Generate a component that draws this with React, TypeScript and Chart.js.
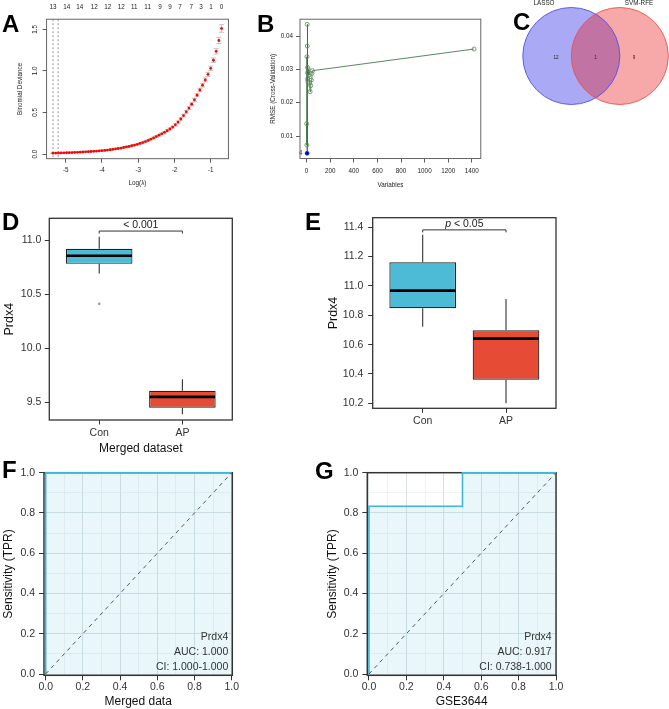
import React, { useEffect, useRef } from 'react';
import { Chart, registerables } from 'chart.js';

Chart.register(...registerables);

const FONT = '"Liberation Sans", Arial, Helvetica, sans-serif';

// ---------- Panel A: LASSO cross-validation ----------
const logLambda = [
  -5.35, -5.275, -5.2, -5.125, -5.05, -4.975, -4.9, -4.825, -4.75, -4.675,
  -4.6, -4.525, -4.45, -4.375, -4.3, -4.225, -4.15, -4.075, -4.0, -3.925,
  -3.85, -3.775, -3.7, -3.625, -3.55, -3.475, -3.4, -3.325, -3.25, -3.175,
  -3.1, -3.025, -2.95, -2.875, -2.8, -2.725, -2.65, -2.575, -2.5, -2.425,
  -2.35, -2.275, -2.2, -2.125, -2.05, -1.975, -1.9, -1.825, -1.75, -1.675,
  -1.6, -1.525, -1.45, -1.375, -1.3, -1.225, -1.15, -1.075, -1.0, -0.925,
  -0.85, -0.775, -0.7,
];
const binomialDeviance = [
  0.0100, 0.0108, 0.0118, 0.0127, 0.0138, 0.0150, 0.0162, 0.0176, 0.0191, 0.0207,
  0.0224, 0.0243, 0.0262, 0.0281, 0.0302, 0.0324, 0.0347, 0.0373, 0.0400, 0.0435,
  0.0473, 0.0514, 0.0560, 0.0609, 0.0662, 0.0719, 0.0780, 0.0846, 0.0916, 0.0994,
  0.1077, 0.1168, 0.127, 0.138, 0.150, 0.163, 0.178, 0.193, 0.210, 0.226,
  0.243, 0.261, 0.280, 0.301, 0.324, 0.351, 0.384, 0.421, 0.462, 0.507,
  0.552, 0.599, 0.652, 0.708, 0.770, 0.828, 0.891, 0.958, 1.030, 1.128,
  1.235, 1.365, 1.510,
];
const devianceSE = [
  0.004, 0.004, 0.004, 0.004, 0.004, 0.004, 0.004, 0.004, 0.004, 0.004,
  0.004, 0.005, 0.005, 0.005, 0.005, 0.005, 0.005, 0.005, 0.005, 0.005,
  0.005, 0.006, 0.006, 0.006, 0.006, 0.006, 0.006, 0.007, 0.007, 0.007,
  0.007, 0.007, 0.008, 0.008, 0.008, 0.008, 0.008, 0.010, 0.010, 0.010,
  0.010, 0.012, 0.012, 0.012, 0.012, 0.014, 0.014, 0.014, 0.016, 0.016,
  0.016, 0.018, 0.018, 0.018, 0.021, 0.021, 0.024, 0.024, 0.027, 0.027,
  0.032, 0.038, 0.046,
];
const lambdaMin = -5.35;
const lambda1se = -5.21;
const topAxisLambda = [-5.35, -4.97, -4.61, -4.21, -3.84, -3.47, -3.11, -2.74, -2.4, -2.12, -1.85, -1.54, -1.27, -0.99, -0.7];
const topAxisNonzero = ['13', '14', '14', '12', '12', '12', '11', '11', '9', '9', '7', '7', '3', '1', '0'];

// ---------- Panel B: SVM-RFE ----------
const rfeVariables = [1, 2, 3, 4, 5, 6, 7, 8, 9, 10, 15, 20, 25, 30, 35, 40, 45, 50, 1419];
const rfeRMSE = [0.0137, 0.0073, 0.0338, 0.0048, 0.0435, 0.037, 0.0306, 0.029, 0.0272, 0.0265, 0.03, 0.0283, 0.026, 0.0233, 0.0251, 0.0268, 0.0288, 0.0296, 0.0361];
const rfeBestLabel = '4';

// ---------- Panel C: Venn ----------
const vennSets = ['LASSO', 'SVM-RFE'];
const vennCounts = [12, 1, 9];

// ---------- Panels D / E: boxplots ----------
const groups = ['Con', 'AP'];
const mergedLow = [10.69, 9.39];
const mergedQ1 = [10.78, 9.45];
const mergedMedian = [10.855, 9.55];
const mergedQ3 = [10.92, 9.606];
const mergedHigh = [11.03, 9.713];
const mergedOutliers = [[10.41], []];
const mergedP = '< 0.001';

const gseLow = [10.722, 10.2];
const gseQ1 = [10.848, 10.361];
const gseMedian = [10.968, 10.641];
const gseQ3 = [11.161, 10.698];
const gseHigh = [11.348, 10.911];
const gseOutliers = [[], []];
const gseP = '< 0.05';

// ---------- Panels F / G: ROC ----------
const rocGene = 'Prdx4';
const rocMergedFPR = [0, 0, 1];
const rocMergedTPR = [0, 1, 1];
const rocMergedAUC = '1.000';
const rocMergedCI = '1.000-1.000';
const rocGseFPR = [0, 0, 0.5, 0.5, 1];
const rocGseTPR = [0, 0.833, 0.833, 1, 1];
const rocGseAUC = '0.917';
const rocGseCI = '0.738-1.000';
const rocGridTicks = [0, 0.1, 0.2, 0.3, 0.4, 0.5, 0.6, 0.7, 0.8, 0.9, 1.0];
const diagonal = [0, 1];

const font = (size: number, extra: any = {}) => ({ family: FONT, size, ...extra });

const baseOptions = () => ({
  animation: false,
  responsive: false,
  maintainAspectRatio: false,
  devicePixelRatio: 1,
  events: [],
  plugins: { legend: { display: false }, tooltip: { enabled: false } },
});

function framePlugin(color: string, width: number) {
  return {
    id: 'frame',
    beforeDatasetsDraw(chart: any) {
      const { ctx, chartArea: a } = chart;
      ctx.save();
      ctx.strokeStyle = color;
      ctx.lineWidth = width;
      ctx.strokeRect(a.left, a.top, a.right - a.left, a.bottom - a.top);
      ctx.restore();
    },
  };
}

function letterPlugin(text: string, x: number, y: number) {
  return {
    id: 'panelLetter',
    afterDraw(chart: any) {
      const ctx = chart.ctx;
      ctx.save();
      ctx.font = `bold 24px ${FONT}`;
      ctx.fillStyle = '#000';
      ctx.textAlign = 'left';
      ctx.textBaseline = 'alphabetic';
      ctx.fillText(text, x, y);
      ctx.restore();
    },
  };
}

// ---------- A ----------
function configA() {
  const small = font(6.3);
  const points = logLambda.map((x, i) => ({ x, y: binomialDeviance[i] }));
  const xMin = -5.527;
  const xMax = -0.512;
  const errorBars = {
    id: 'errorBars',
    beforeDatasetsDraw(chart: any) {
      const { ctx, scales } = chart;
      const x = scales.x;
      const y = scales.y;
      ctx.save();
      ctx.strokeStyle = '#666';
      ctx.lineWidth = 0.7;
      ctx.setLineDash([2, 2]);
      [lambdaMin, lambda1se].forEach((l) => {
        const px = x.getPixelForValue(l);
        ctx.beginPath();
        ctx.moveTo(px, chart.chartArea.top);
        ctx.lineTo(px, chart.chartArea.bottom);
        ctx.stroke();
      });
      ctx.setLineDash([]);
      ctx.strokeStyle = '#aaaaaa';
      ctx.lineWidth = 0.7;
      logLambda.forEach((l, i) => {
        const px = x.getPixelForValue(l);
        const lo = y.getPixelForValue(binomialDeviance[i] - devianceSE[i]);
        const hi = y.getPixelForValue(binomialDeviance[i] + devianceSE[i]);
        ctx.beginPath();
        ctx.moveTo(px, lo);
        ctx.lineTo(px, hi);
        ctx.moveTo(px - 2.5, lo);
        ctx.lineTo(px + 2.5, lo);
        ctx.moveTo(px - 2.5, hi);
        ctx.lineTo(px + 2.5, hi);
        ctx.stroke();
      });
      ctx.restore();
    },
  };
  // number of non-zero coefficients along the top edge (R axis side 3, no tick marks)
  const topCounts = {
    id: 'topCounts',
    afterDraw(chart: any) {
      const { ctx, scales, chartArea } = chart;
      ctx.save();
      ctx.font = `6.3px ${FONT}`;
      ctx.fillStyle = '#222';
      ctx.textAlign = 'center';
      ctx.textBaseline = 'middle';
      topAxisLambda.forEach((l, i) => {
        ctx.fillText(topAxisNonzero[i], scales.x.getPixelForValue(l), chartArea.top - 12);
      });
      ctx.restore();
    },
  };
  return {
    type: 'scatter',
    data: {
      datasets: [
        { data: points, pointRadius: 1.4, pointBackgroundColor: '#ff0000', pointBorderColor: '#ff0000', pointBorderWidth: 0, clip: false },
      ],
    },
    options: {
      ...baseOptions(),
      layout: { autoPadding: false, padding: { left: 0, right: 11.6, top: 19.2, bottom: 0 } },
      scales: {
        x: {
          type: 'linear', position: 'bottom', min: xMin, max: xMax,
          ticks: { stepSize: 1, includeBounds: false, minRotation: 0, maxRotation: 0, font: small, color: '#222', padding: 4.2, callback: (v: any) => String(v) },
          grid: { drawOnChartArea: false, tickLength: 4, color: '#333', lineWidth: 0.8 },
          border: { display: false },
          title: { display: true, text: 'Log(λ)', font: small, color: '#222', padding: { top: 0, bottom: 7.9 } },
          afterFit: (s: any) => { s.height = 36.3; },
        },
        y: {
          type: 'linear', min: -0.0565, max: 1.6215,
          ticks: { stepSize: 0.5, includeBounds: false, minRotation: 90, maxRotation: 90, crossAlign: 'center', font: small, color: '#222', padding: 2.7, callback: (v: any) => Number(v).toFixed(1) },
          grid: { drawOnChartArea: false, tickLength: 4, color: '#333', lineWidth: 0.8 },
          border: { display: false },
          title: { display: true, text: 'Binomial Deviance', font: small, color: '#222', padding: { top: 16.7, bottom: 0 } },
          afterFit: (s: any) => { s.width = 46.6; },
        },
      },
    },
    plugins: [framePlugin('#555', 0.9), errorBars, topCounts, letterPlugin('A', 2, 32)],
  };
}

// ---------- B ----------
function configB() {
  const small = font(6.3);
  const pts = rfeVariables.map((v, i) => ({ x: v, y: rfeRMSE[i] }));
  const best = rfeRMSE.indexOf(Math.min(...rfeRMSE));
  const bestLabel = {
    id: 'bestLabel',
    afterDatasetsDraw(chart: any) {
      const { ctx, scales } = chart;
      const px = scales.x.getPixelForValue(rfeVariables[best]);
      const py = scales.y.getPixelForValue(rfeRMSE[best]);
      ctx.save();
      ctx.font = `6.3px ${FONT}`;
      ctx.fillStyle = '#ff0000';
      ctx.textAlign = 'right';
      ctx.textBaseline = 'middle';
      ctx.fillText(rfeBestLabel, px - 4.5, py);
      ctx.restore();
    },
  };
  return {
    type: 'line',
    data: {
      datasets: [
        { data: [pts[best]], showLine: false, pointRadius: 2, pointBackgroundColor: '#0000ff', pointBorderColor: '#0000ff', pointBorderWidth: 0, clip: false },
        { data: pts, borderColor: '#2e6b2e', borderWidth: 0.8, pointRadius: 2, pointBackgroundColor: 'rgba(0,0,0,0)', pointBorderColor: '#5b875b', pointBorderWidth: 0.8, tension: 0, fill: false, clip: false },
      ],
    },
    options: {
      ...baseOptions(),
      layout: { autoPadding: false, padding: { left: 0, right: 9.2, top: 19.2, bottom: 0 } },
      scales: {
        x: {
          type: 'linear', min: -56, max: 1476,
          ticks: { stepSize: 200, includeBounds: false, minRotation: 0, maxRotation: 0, font: small, color: '#222', padding: 4.7, autoSkip: false, callback: (v: any) => String(v) },
          grid: { drawOnChartArea: false, tickLength: 4, color: '#333', lineWidth: 0.8 },
          border: { display: false },
          title: { display: true, text: 'Variables', font: small, color: '#222', padding: { top: 0, bottom: 6.2 } },
          afterFit: (s: any) => { s.height = 36.5; },
        },
        y: {
          type: 'linear', min: 0.00325, max: 0.04505,
          ticks: { stepSize: 0.01, includeBounds: false, font: small, color: '#222', padding: 3, callback: (v: any) => Number(v).toFixed(2) },
          grid: { drawOnChartArea: false, tickLength: 4, color: '#333', lineWidth: 0.8 },
          border: { display: false },
          title: { display: true, text: 'RMSE (Cross-Validation)', font: small, color: '#222', padding: { top: 29.5, bottom: 0 } },
          afterFit: (s: any) => { s.width = 60; },
        },
      },
    },
    plugins: [framePlugin('#555', 0.9), bestLabel, letterPlugin('B', 17, 32)],
  };
}

// ---------- C ----------
function configC() {
  const vennRadius = 1.0;
  const vennCenters = [-0.5, 0.5];
  const fills = ['rgba(30,30,230,0.38)', 'rgba(235,30,30,0.38)'];
  const strokes = ['#5252e8', '#e85252'];
  const venn = {
    id: 'venn',
    beforeDatasetsDraw(chart: any) {
      const { ctx, scales } = chart;
      const x = scales.x;
      const y = scales.y;
      const r = Math.abs(x.getPixelForValue(vennRadius) - x.getPixelForValue(0));
      ctx.save();
      vennCenters.forEach((c, i) => {
        ctx.beginPath();
        ctx.arc(x.getPixelForValue(c), y.getPixelForValue(0), r, 0, Math.PI * 2);
        ctx.fillStyle = fills[i];
        ctx.fill();
      });
      vennCenters.forEach((c, i) => {
        ctx.beginPath();
        ctx.arc(x.getPixelForValue(c), y.getPixelForValue(0), r, 0, Math.PI * 2);
        ctx.strokeStyle = strokes[i];
        ctx.lineWidth = 0.9;
        ctx.stroke();
      });
      ctx.fillStyle = '#222';
      ctx.textAlign = 'center';
      ctx.textBaseline = 'middle';
      ctx.font = `6.3px ${FONT}`;
      ctx.fillText(vennSets[0], x.getPixelForValue(-1.063), y.getPixelForValue(1.093));
      ctx.fillText(vennSets[1], x.getPixelForValue(0.896), y.getPixelForValue(1.093));
      ctx.font = `4.6px ${FONT}`;
      const cx = [-0.815, 0, 0.793];
      vennCounts.forEach((cnt, i) => ctx.fillText(String(cnt), x.getPixelForValue(cx[i]), y.getPixelForValue(-0.03)));
      ctx.restore();
    },
  };
  return {
    type: 'scatter',
    data: {
      datasets: vennSets.map((s, i) => ({ label: s, data: [{ x: vennCenters[i], y: 0 }], pointRadius: 0 })),
    },
    options: {
      ...baseOptions(),
      layout: { autoPadding: false, padding: 0 },
      scales: {
        x: { type: 'linear', display: false, min: -2.176, max: 1.514 },
        y: { type: 'linear', display: false, min: -1.216, max: 1.154 },
      },
    },
    plugins: [venn, letterPlugin('C', 23, 30)],
  };
}

// ---------- D / E ----------
function configBox(p: any) {
  const colors = ['#4DBBD5', '#E64B35'];
  const extras = {
    id: 'boxExtras',
    afterDatasetsDraw(chart: any) {
      const { ctx, scales } = chart;
      const x = scales.x;
      const y = scales.y;
      ctx.save();
      p.low.forEach((_: any, i: number) => {
        const xc = x.getPixelForValue(i + 1);
        const hw = x.getPixelForValue(i + 1.4) - xc;
        ctx.strokeStyle = '#333';
        ctx.lineWidth = 1.1;
        ctx.beginPath();
        ctx.moveTo(xc, y.getPixelForValue(p.q3[i]));
        ctx.lineTo(xc, y.getPixelForValue(p.high[i]));
        ctx.moveTo(xc, y.getPixelForValue(p.q1[i]));
        ctx.lineTo(xc, y.getPixelForValue(p.low[i]));
        ctx.stroke();
        const ym = y.getPixelForValue(p.median[i]);
        ctx.strokeStyle = '#000';
        ctx.lineWidth = 2.6;
        ctx.beginPath();
        ctx.moveTo(xc - hw + 0.6, ym);
        ctx.lineTo(xc + hw - 0.6, ym);
        ctx.stroke();
      });
      const by = y.getPixelForValue(p.bracketY);
      const x1 = x.getPixelForValue(1);
      const x2 = x.getPixelForValue(2);
      ctx.strokeStyle = '#333';
      ctx.lineWidth = 1;
      ctx.beginPath();
      ctx.moveTo(x1, by + 2.5);
      ctx.lineTo(x1, by);
      ctx.lineTo(x2, by);
      ctx.lineTo(x2, by + 2.5);
      ctx.stroke();
      ctx.fillStyle = '#222';
      ctx.textBaseline = 'alphabetic';
      const mid = (x1 + x2) / 2;
      const normal = `10.5px ${FONT}`;
      const italic = `italic 10.5px ${FONT}`;
      if (p.italicP) {
        ctx.font = italic;
        const w1 = ctx.measureText('p ').width;
        ctx.font = normal;
        const w2 = ctx.measureText(p.pText).width;
        const start = mid - (w1 + w2) / 2;
        ctx.textAlign = 'left';
        ctx.font = italic;
        ctx.fillText('p ', start, by - 3);
        ctx.font = normal;
        ctx.fillText(p.pText, start + w1, by - 3);
      } else {
        ctx.font = normal;
        ctx.textAlign = 'center';
        ctx.fillText(p.pText, mid, by - 3);
      }
      ctx.restore();
    },
  };
  const outlierPts: any[] = [];
  p.outliers.forEach((arr: number[], i: number) => arr.forEach((v) => outlierPts.push({ x: i + 1, y: v })));
  return {
    type: 'bar',
    data: {
      datasets: [
        { type: 'scatter', data: outlierPts, pointRadius: 1.3, pointBackgroundColor: '#999', pointBorderColor: '#999', pointBorderWidth: 0 },
        {
          type: 'bar',
          data: groups.map((_g, i) => ({ x: i + 1, y: [p.q1[i], p.q3[i]] })),
          backgroundColor: colors,
          borderColor: '#222',
          borderWidth: 1.2,
          borderSkipped: false,
          categoryPercentage: 0.8,
          barPercentage: 1,
          clip: false,
        },
      ],
    },
    options: {
      ...baseOptions(),
      layout: { autoPadding: false, padding: { left: 0, right: p.padRight, top: p.padTop, bottom: 0 } },
      scales: {
        x: {
          type: 'linear', min: 0.4, max: 2.6, offset: false,
          afterBuildTicks: (s: any) => { s.ticks = groups.map((_g, i) => ({ value: i + 1 })); },
          ticks: { autoSkip: false, minRotation: 0, maxRotation: 0, font: font(10.5), color: '#333', padding: p.xTickPad, callback: (_v: any, i: number) => groups[i] },
          grid: { drawOnChartArea: false, offset: false, tickLength: 4.5, color: '#333', lineWidth: 1 },
          border: { display: false },
          title: p.xTitle
            ? { display: true, text: p.xTitle, font: font(12), color: '#111', padding: { top: 0, bottom: p.xTitlePad } }
            : { display: false },
          afterFit: (s: any) => { s.height = p.xHeight; },
        },
        y: {
          type: 'linear', min: p.yMin, max: p.yMax,
          ticks: { stepSize: p.step, includeBounds: false, font: font(10.5), color: '#333', padding: p.yTickPad, callback: (v: any) => Number(v).toFixed(1) },
          grid: { drawOnChartArea: false, tickLength: 4.5, color: '#333', lineWidth: 1 },
          border: { display: false },
          title: { display: true, text: 'Prdx4', font: font(12.5), color: '#111', padding: { top: p.yTitlePad, bottom: 0 } },
          afterFit: (s: any) => { s.width = p.yWidth; },
        },
      },
    },
    plugins: [framePlugin('#333', 1.3), extras, letterPlugin(p.letter, p.letterX, p.letterY)],
  };
}

// ---------- F / G ----------
function configRoc(p: any) {
  const roc = p.fpr.map((f: number, i: number) => ({ x: f, y: p.tpr[i] }));
  const isMajor = (v: number) => Math.round(v * 10) % 2 === 0;
  const label = (v: any) => (isMajor(Number(v)) ? Number(v).toFixed(1) : '');
  const axis = (extra: any) => ({
    type: 'linear',
    afterBuildTicks: (s: any) => { s.ticks = rocGridTicks.map((v) => ({ value: v })); },
    grid: {
      color: (c: any) => (c.tick && isMajor(c.tick.value) ? '#d6dde0' : '#e6eaec'),
      lineWidth: (c: any) => (c.tick && isMajor(c.tick.value) ? 0.9 : 0.6),
      tickColor: (c: any) => (c.tick && isMajor(c.tick.value) ? '#333' : 'rgba(0,0,0,0)'),
      tickWidth: 1,
      tickLength: 5,
    },
    border: { display: false },
    ...extra,
  });
  const rocText = {
    id: 'rocText',
    afterDatasetsDraw(chart: any) {
      const { ctx, chartArea: a } = chart;
      ctx.save();
      ctx.font = `10.5px ${FONT}`;
      ctx.fillStyle = '#333';
      ctx.textAlign = 'right';
      ctx.textBaseline = 'middle';
      const lines = [rocGene, `AUC: ${p.auc}`, `CI: ${p.ci}`];
      const offs = [38.6, 23.6, 8.6];
      lines.forEach((t, i) => ctx.fillText(t, a.right - p.textInset, a.bottom - offs[i]));
      ctx.restore();
    },
  };
  return {
    type: 'line',
    data: {
      datasets: [
        { data: diagonal.map((d) => ({ x: d, y: d })), borderColor: '#555', borderWidth: 1, borderDash: [4, 4], pointRadius: 0, fill: false, clip: false },
        { data: roc, borderColor: '#41b5da', borderWidth: 1.6, pointRadius: 0, tension: 0, fill: 'origin', backgroundColor: 'rgba(77,187,213,0.12)', clip: false },
      ],
    },
    options: {
      ...baseOptions(),
      layout: { autoPadding: false, padding: { left: 0, right: p.padRight, top: 17.7, bottom: 0 } },
      scales: {
        x: axis({
          min: -0.009, max: p.xMax,
          title: { display: true, text: p.xTitle, font: font(12), color: '#111', padding: { top: 0, bottom: 0.1 } },
          afterFit: (s: any) => { s.height = 33.7; },
          ticks: { autoSkip: false, minRotation: 0, maxRotation: 0, font: font(10.5), color: '#333', padding: 0.7, callback: label },
        }),
        y: axis({
          min: -0.0064, max: 1.0,
          title: { display: true, text: 'Sensitivity (TPR)', font: font(12), color: '#111', padding: { top: p.yTitlePad, bottom: 0 } },
          afterFit: (s: any) => { s.width = p.yWidth; },
          ticks: { autoSkip: false, font: font(10.5), color: '#333', padding: 4, callback: label },
        }),
      },
    },
    plugins: [framePlugin('#333', 1.5), rocText, letterPlugin(p.letter, p.letterX, p.letterY)],
  };
}

function ChartCanvas({ left, top, width, height, config }: any) {
  const ref = useRef<HTMLCanvasElement | null>(null);
  useEffect(() => {
    if (!ref.current) return;
    const chart = new Chart(ref.current, config() as any);
    return () => chart.destroy();
  }, []);
  return (
    <div style={{ position: 'absolute', left, top, width, height }}>
      <canvas ref={ref} width={width} height={height} style={{ display: 'block', width, height }} />
    </div>
  );
}

export default function App() {
  return (
    <div style={{ position: 'absolute', left: 0, top: 0, width: 669, height: 709, background: '#fff', overflow: 'hidden' }}>
      <ChartCanvas left={0} top={0} width={240} height={195} config={configA} />
      <ChartCanvas left={240} top={0} width={250} height={195} config={configB} />
      <ChartCanvas left={490} top={0} width={179} height={115} config={configC} />
      <ChartCanvas
        left={0} top={195} width={300} height={265}
        config={() => configBox({
          low: mergedLow, q1: mergedQ1, median: mergedMedian, q3: mergedQ3, high: mergedHigh, outliers: mergedOutliers,
          pText: mergedP, italicP: false, bracketY: 11.083,
          yMin: 9.336, yMax: 11.201, step: 0.5,
          padRight: 67.7, padTop: 23.3, yWidth: 49.3, xHeight: 40,
          xTitle: 'Merged dataset', xTitlePad: 4.5, xTickPad: 2.5, yTickPad: 3.5, yTitlePad: 2,
          letter: 'D', letterX: 2, letterY: 35,
        })}
      />
      <ChartCanvas
        left={300} top={195} width={369} height={265}
        config={() => configBox({
          low: gseLow, q1: gseQ1, median: gseMedian, q3: gseQ3, high: gseHigh, outliers: gseOutliers,
          pText: gseP, italicP: true, bracketY: 11.382,
          yMin: 10.166, yMax: 11.465, step: 0.2,
          padRight: 113, padTop: 22.7, yWidth: 72.7, xHeight: 51.7,
          xTitle: null, xTitlePad: 0, xTickPad: 1.6, yTickPad: 4.9, yTitlePad: 26.5,
          letter: 'E', letterX: 5, letterY: 35,
        })}
      />
      <ChartCanvas
        left={0} top={455} width={300} height={254}
        config={() => configRoc({
          fpr: rocMergedFPR, tpr: rocMergedTPR, auc: rocMergedAUC, ci: rocMergedCI,
          xTitle: 'Merged data', xMax: 1.003, padRight: 67.7, yWidth: 44, yTitlePad: 1.8, textInset: 4,
          letter: 'F', letterX: 2, letterY: 23,
        })}
      />
      <ChartCanvas
        left={300} top={455} width={369} height={254}
        config={() => configRoc({
          fpr: rocGseFPR, tpr: rocGseTPR, auc: rocGseAUC, ci: rocGseCI,
          xTitle: 'GSE3644', xMax: 1.0, padRight: 113, yWidth: 67.3, yTitlePad: 25.8, textInset: 4.3,
          letter: 'G', letterX: 15, letterY: 24,
        })}
      />
    </div>
  );
}
